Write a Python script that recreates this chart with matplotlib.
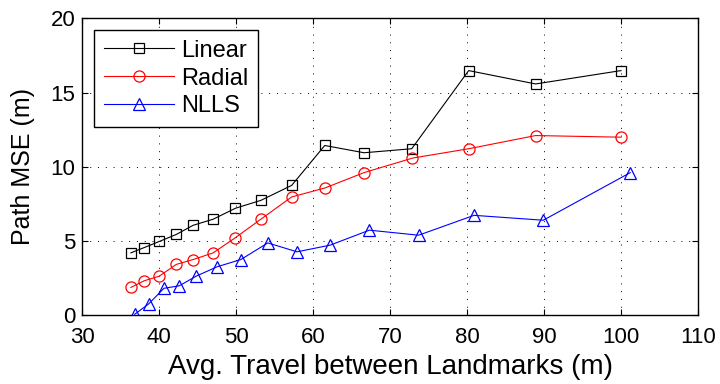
import matplotlib.pyplot as plt

plt.rcParams['font.family'] = ['Liberation Sans', 'DejaVu Sans']

# avg travel between landmarks (m)
x_lin = [36.3, 38.05, 40.0, 42.2, 44.4, 47.0, 49.9, 53.2, 57.2, 61.5, 66.6, 72.8, 80.2, 88.9, 100.0]
y_lin = [4.19, 4.55, 4.96, 5.43, 6.05, 6.46, 7.2, 7.73, 8.74, 11.43, 10.94, 11.21, 16.48, 15.58, 16.48]

x_rad = [36.3, 38.05, 40.0, 42.2, 44.4, 47.0, 49.9, 53.2, 57.2, 61.5, 66.6, 72.9, 80.2, 88.9, 100.0]
y_rad = [1.86, 2.31, 2.62, 3.41, 3.74, 4.19, 5.22, 6.46, 7.96, 8.56, 9.6, 10.58, 11.21, 12.1, 11.99]

x_nlls = [36.8, 38.6, 40.6, 42.6, 44.8, 47.5, 50.6, 54.1, 57.9, 62.2, 67.3, 73.7, 80.9, 89.9, 101.2]
y_nlls = [0.05, 0.74, 1.8, 1.97, 2.62, 3.25, 3.74, 4.86, 4.26, 4.71, 5.72, 5.38, 6.72, 6.39, 9.6]

fig = plt.figure(figsize=(7.2, 3.84), dpi=100)
ax = fig.add_axes([0.1144, 0.1797, 0.855, 0.7724])

ax.plot(x_lin, y_lin, color='black', marker='s', mfc='none', ms=7.5, lw=0.8, mew=0.9, label='Linear')
ax.plot(x_rad, y_rad, color='red', marker='o', mfc='none', ms=8, lw=0.8, mew=0.9, label='Radial')
ax.plot(x_nlls, y_nlls, color='blue', marker='^', mfc='none', ms=8, lw=0.8, mew=0.9, label='NLLS')

ax.set_xlim(30, 110)
ax.set_ylim(0, 20)
ax.set_xticks(range(30, 111, 10))
ax.set_yticks(range(0, 21, 5))
ax.grid(True, linestyle=(0, (1, 7)), color='black', lw=0.7)
ax.tick_params(direction='in', top=True, right=True, labelsize=16, length=4)
ax.tick_params(axis='x', pad=9)
ax.tick_params(axis='y', pad=5)
for s in ax.spines.values():
    s.set_linewidth(1.0)

ax.set_xlabel('Avg. Travel between Landmarks (m)', fontsize=20, labelpad=4)
ax.set_ylabel('Path MSE (m)', fontsize=18, labelpad=11)

leg = ax.legend(loc='upper left', fontsize=17, fancybox=False, edgecolor='black',
                framealpha=1, borderpad=0.4, handlelength=3, handletextpad=0.3,
                labelspacing=0.25, borderaxespad=0.5)
leg.get_frame().set_linewidth(1.0)

fig.savefig('out.png', dpi=100)
